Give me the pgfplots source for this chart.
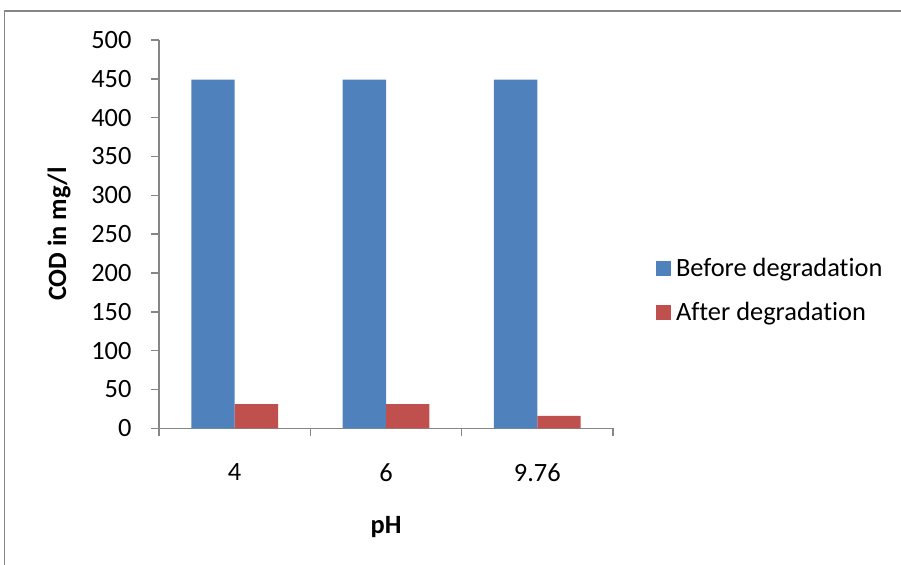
\documentclass[border=0pt]{standalone}
\usepackage{fontspec}
\setmainfont{Carlito}[Ligatures=NoCommon]
\usepackage{pgfplots}
\pgfplotsset{compat=1.18}
\definecolor{barblue}{HTML}{4F81BD}
\definecolor{barred}{HTML}{C0504D}
\definecolor{axgray}{HTML}{868686}
\begin{document}
\begin{tikzpicture}[x=1bp,y=1bp]
\useasboundingbox (0,0) rectangle (901,565);
\draw[axgray, line width=1.5bp] (4.5,0) -- (4.5,554) -- (901,554);
\begin{axis}[
  at={(159bp,136.7bp)}, anchor=south west,
  scale only axis, width=454bp, height=388.3bp,
  font=\fontsize{26.5}{32}\selectfont,
  /pgf/number format/assume math mode=true,
  ybar=0pt, bar width=43.4bp,
  xmin=-0.5, xmax=2.5, ymin=0, ymax=500,
  ytick={0,50,...,500},
  xtick={0,1,2}, xticklabels={4,6,9.76},
  minor xtick={-0.5,0.5,1.5,2.5},
  axis lines*=left,
  axis line style={axgray, line width=1.5bp},
  every tick/.style={axgray, line width=1.5bp},
  major x tick style={draw=none},
  tick align=outside,
  major tick length=8bp, minor tick length=8bp,
  xticklabel style={yshift=-24bp},
  yticklabel style={xshift=-16bp},
  xlabel={\textbf{pH}}, ylabel={\textbf{COD in mg/l}},
  xlabel style={yshift=-28bp},
  ylabel style={yshift=14bp},
  legend style={at={(1.095,0.355)}, anchor=west, draw=none, inner sep=0pt,
    row sep=20bp, font=\fontsize{26.5}{32}\selectfont, cells={anchor=west}},
  legend image code/.code={\fill[#1] (0bp,-7.3bp) rectangle (14.7bp,7.3bp);},
  legend cell align=left,
]
\addplot[fill=barblue, draw=none] coordinates {(0,449) (1,449) (2,449)};
\addplot[fill=barred, draw=none] coordinates {(0,31) (1,31) (2,16)};
\legend{\hspace{3bp}Before degradation, \hspace{3bp}After degradation}
\end{axis}
\end{tikzpicture}
\end{document}
